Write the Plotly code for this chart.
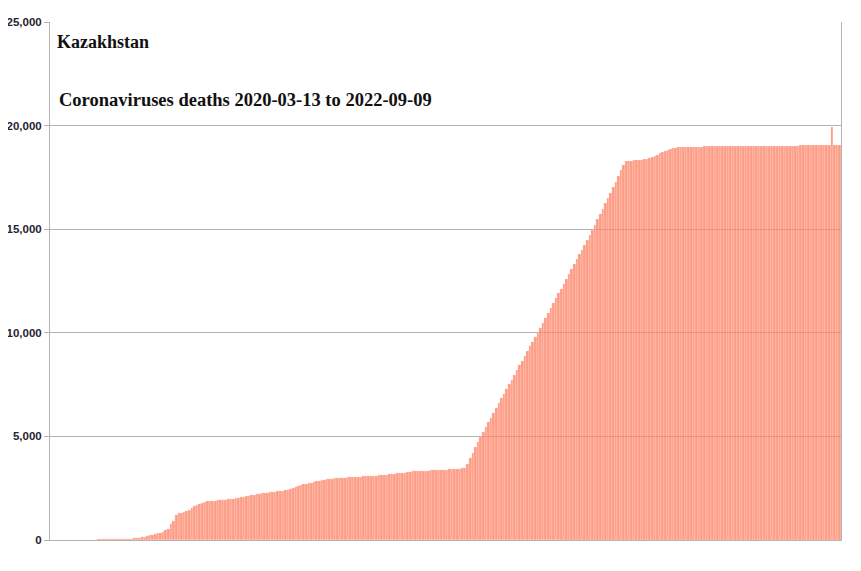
import pandas as pd
import plotly.graph_objects as go

# Kazakhstan, cumulative coronavirus deaths, one value every 3 days
dates = pd.date_range("2020-03-13", periods=304, freq="3D")

deaths = [
    0, 0, 0, 0, 0, 1, 1, 2, 6, 9,
    10, 12, 14, 14, 17, 19, 19, 21, 25, 25,
    26, 28, 29, 31, 34, 35, 37, 40, 45, 50,
    56, 64, 75, 90, 110, 135, 160, 190, 225, 255,
    285, 320, 350, 395, 460, 540, 760, 900, 1200, 1290,
    1320, 1370, 1420, 1460, 1560, 1630, 1700, 1760, 1810, 1850,
    1870, 1885, 1895, 1905, 1915, 1925, 1935, 1945, 1955, 1965,
    1990, 2010, 2035, 2060, 2085, 2110, 2135, 2160, 2185, 2210,
    2235, 2255, 2270, 2285, 2300, 2320, 2335, 2350, 2370, 2385,
    2405, 2425, 2450, 2500, 2560, 2610, 2650, 2680, 2710, 2730,
    2750, 2790, 2830, 2865, 2890, 2910, 2930, 2945, 2960, 2975,
    2985, 2995, 3005, 3012, 3020, 3028, 3035, 3042, 3048, 3055,
    3065, 3072, 3080, 3088, 3096, 3105, 3120, 3135, 3148, 3160,
    3172, 3185, 3198, 3212, 3226, 3240, 3255, 3275, 3295, 3310,
    3318, 3325, 3332, 3339, 3346, 3352, 3358, 3364, 3370, 3376,
    3382, 3390, 3398, 3407, 3416, 3425, 3434, 3443, 3452, 3470,
    3680, 3950, 4220, 4490, 4750, 4990, 5220, 5450, 5680, 5910,
    6140, 6370, 6600, 6830, 7060, 7290, 7510, 7740, 7970, 8200,
    8430, 8660, 8880, 9110, 9340, 9560, 9790, 10010, 10250, 10490,
    10720, 10960, 11190, 11430, 11660, 11900, 12130, 12370, 12600, 12840,
    13070, 13310, 13540, 13780, 14010, 14250, 14490, 14730, 14970, 15220,
    15480, 15730, 15990, 16250, 16510, 16770, 17030, 17300, 17570, 17840,
    18110, 18290, 18300, 18310, 18320, 18330, 18340, 18350, 18370, 18390,
    18430, 18480, 18540, 18600, 18660, 18720, 18780, 18830, 18870, 18900,
    18930, 18950, 18960, 18965, 18970, 18975, 18980, 18982, 18985, 18988,
    18990, 18992, 18994, 18996, 18998, 19000, 19002, 19004, 19006, 19008,
    19010, 19012, 19014, 19015, 19016, 19017, 19018, 19019, 19020, 19021,
    19022, 19023, 19024, 19025, 19026, 19027, 19028, 19029, 19030, 19031,
    19032, 19033, 19034, 19035, 19036, 19037, 19038, 19039, 19040, 19041,
    19042, 19043, 19044, 19045, 19046, 19047, 19048, 19049, 19050, 19050,
    19950, 19052, 19053, 19054,
]

y_ticks = [0, 5000, 10000, 15000, 20000, 25000]

fig = go.Figure()
fig.add_trace(go.Bar(
    x=dates, y=deaths,
    marker=dict(color="rgba(252,118,84,0.72)", line=dict(color="white", width=0.2)),
))

# la page ajoute 8 px de marge autour du graphique
fig.update_layout(
    width=845, height=555,
    margin=dict(l=42, r=12, t=14, b=23),
    paper_bgcolor="white", plot_bgcolor="white",
    bargap=0, showlegend=False,
)
fig.update_xaxes(showticklabels=False, showgrid=False, ticks="", automargin=False,
                 showline=True, linecolor="#b3b3b3", linewidth=1)
fig.update_yaxes(range=[0, 25000], tickvals=y_ticks, tickformat=",d", automargin=False,
                 ticks="outside", ticklen=5, tickcolor="#b3b3b3",
                 tickfont=dict(family="Liberation Sans", size=11.5, color="#1f2430", weight="bold"),
                 showgrid=True, gridcolor="#b3b3b3", gridwidth=1,
                 showline=True, linecolor="#b3b3b3", linewidth=1, mirror=True,
                 zeroline=False)

fig.add_annotation(text="Kazakhstan", xref="paper", yref="paper", x=0.006, y=0.962,
                   xanchor="left", yanchor="middle", showarrow=False,
                   font=dict(family="Liberation Serif", size=18, color="#111", weight="bold"))
fig.add_annotation(text="Coronaviruses deaths 2020-03-13 to 2022-09-09", xref="paper", yref="paper",
                   x=0.009, y=0.849, xanchor="left", yanchor="middle", showarrow=False,
                   font=dict(family="Liberation Serif", size=18.5, color="#111", weight="bold"))

fig.write_html("out.html")
